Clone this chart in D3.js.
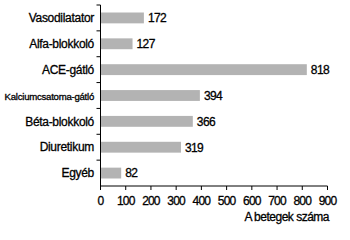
<!DOCTYPE html>
<html><head><meta charset="utf-8">
<script src="https://cdn.jsdelivr.net/npm/d3@7"></script>
<style>body{margin:0;background:#fff}svg{display:block}text{font-family:"Liberation Sans",Arial,sans-serif;fill:#000;stroke:#000;stroke-width:0.3px}</style>
</head><body><svg id="c" width="350" height="240"></svg>
<script>
const categories = ["Vasodilatator","Alfa-blokkoló","ACE-gátló","Kalciumcsatoma-gátló","Béta-blokkoló","Diuretikum","Egyéb"];
const values = [172,127,818,394,366,319,82];
const xTicks = [0,100,200,300,400,500,600,700,800,900];
const xTitle = "A betegek száma";

const svg = d3.select("#c");
const x = d3.scaleLinear().domain([0,900]).range([100.5,327.5]);
const y = d3.scaleBand().domain(categories).range([5,186]).paddingInner(0.58).paddingOuter(0.29);

svg.selectAll("rect.bar").data(values).join("rect")
  .attr("x", x(0)).attr("y",(d,i)=>y(categories[i]))
  .attr("width", d=>x(d)-x(0)).attr("height", y.bandwidth())
  .attr("fill","#b3b3b3");

svg.selectAll("text.val").data(values).join("text")
  .attr("x", d=>x(d)+4).attr("y",(d,i)=>y(categories[i])+y.bandwidth()/2+4.4)
  .attr("font-size","12px").attr("letter-spacing","-0.6px").text(d=>d);

// y axis
const yAx = svg.append("g");
yAx.append("line").attr("x1",x(0)).attr("x2",x(0)).attr("y1",5).attr("y2",186).attr("stroke","#000");
d3.range(categories.length).forEach(i=>{
  const ty = 5 + i*(181/7);
  yAx.append("line").attr("x1",x(0)-4).attr("x2",x(0)).attr("y1",ty).attr("y2",ty).attr("stroke","#000");
});
svg.selectAll("text.cat").data(categories).join("text")
  .attr("x",94).attr("y",d=>y(d)+y.bandwidth()/2+4.2)
  .attr("text-anchor","end")
  .attr("font-size",d=>d.length>15?"9.6px":"12px")
  .attr("letter-spacing",d=>d.length>15?"-0.25px":"-0.3px")
  .text(d=>d);

// x axis
const xAx = svg.append("g").attr("transform","translate(0,186)");
xAx.append("line").attr("x1",x(0)).attr("x2",x(900)).attr("stroke","#000");
xAx.selectAll("line.t").data(xTicks).join("line").attr("class","t")
  .attr("x1",d=>x(d)).attr("x2",d=>x(d)).attr("y1",0).attr("y2",4).attr("stroke","#000");
xAx.selectAll("text").data(xTicks).join("text")
  .attr("x",d=>x(d)).attr("y",18.5).attr("text-anchor","middle")
  .attr("font-size","12px").attr("letter-spacing","-0.8px").text(d=>d);
svg.append("text").attr("x",329).attr("y",221).attr("text-anchor","end")
  .attr("font-size","12px").attr("letter-spacing","-0.5px").text(xTitle);
</script></body></html>
